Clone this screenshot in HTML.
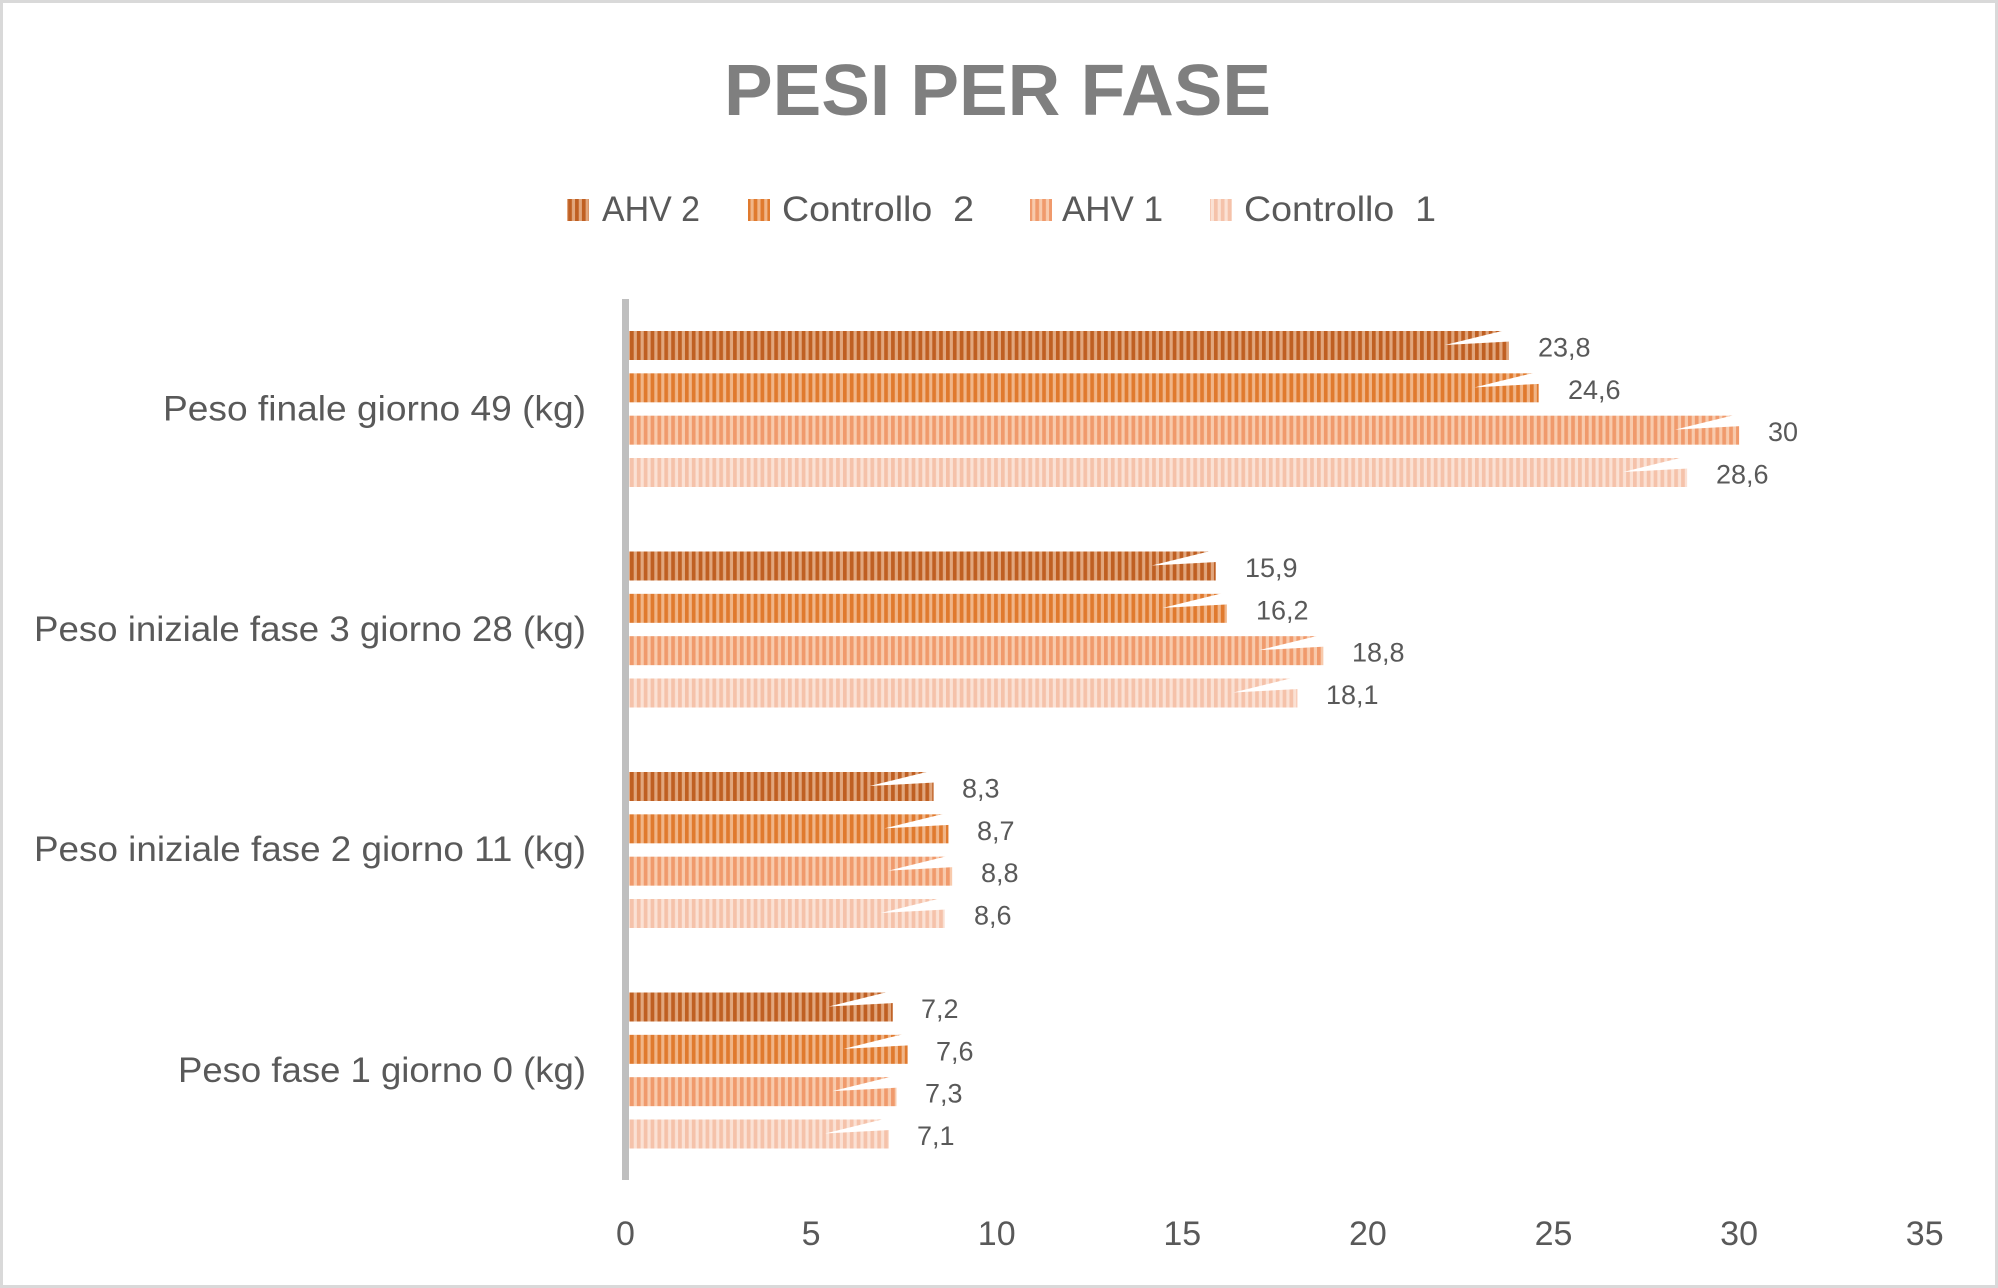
<!DOCTYPE html>
<html>
<head>
<meta charset="utf-8">
<style>
  html,body{margin:0;padding:0;background:#fff;}
  svg{display:block;}
  text{font-family:"Liberation Sans", Arial, sans-serif;}
</style>
</head>
<body>
<svg width="1998" height="1288" viewBox="0 0 1998 1288" xmlns="http://www.w3.org/2000/svg">
  <defs>
    <pattern id="p1" patternUnits="userSpaceOnUse" x="630" y="0" width="6.87" height="20">
      <rect width="6.87" height="20" fill="#E1A67D"/>
      <rect width="3.7" height="20" fill="#BF5F22"/>
    </pattern>
    <pattern id="p2" patternUnits="userSpaceOnUse" x="630" y="0" width="6.87" height="20">
      <rect width="6.87" height="20" fill="#F0B588"/>
      <rect width="3.7" height="20" fill="#E07A2E"/>
    </pattern>
    <pattern id="p3" patternUnits="userSpaceOnUse" x="630" y="0" width="6.87" height="20">
      <rect width="6.87" height="20" fill="#F8CAAC"/>
      <rect width="3.7" height="20" fill="#F09A6C"/>
    </pattern>
    <pattern id="p4" patternUnits="userSpaceOnUse" x="630" y="0" width="6.87" height="20">
      <rect width="6.87" height="20" fill="#FBE1D4"/>
      <rect width="3.7" height="20" fill="#F5C2AA"/>
    </pattern>
  </defs>

  <rect x="0" y="0" width="1998" height="1288" fill="#ffffff"/>
  <rect x="1.5" y="1.5" width="1995" height="1285" fill="none" stroke="#D9D9D9" stroke-width="3"/>

  <!-- Title -->
  <text x="724" y="115" font-size="72" font-weight="bold" fill="#7F7F7F" textLength="547" lengthAdjust="spacingAndGlyphs">PESI PER FASE</text>

  <!-- Legend -->
  <rect x="567" y="199" width="22" height="22" fill="url(#p1)"/>
  <text x="602" y="221" font-size="35" fill="#595959" textLength="98" lengthAdjust="spacingAndGlyphs">AHV 2</text>
  <rect x="748" y="199" width="22" height="22" fill="url(#p2)"/>
  <text x="782" y="221" font-size="35" fill="#595959" textLength="192" lengthAdjust="spacingAndGlyphs">Controllo&#160; 2</text>
  <rect x="1030" y="199" width="22" height="22" fill="url(#p3)"/>
  <text x="1062" y="221" font-size="35" fill="#595959" textLength="101" lengthAdjust="spacingAndGlyphs">AHV 1</text>
  <rect x="1210" y="199" width="22" height="22" fill="url(#p4)"/>
  <text x="1244" y="221" font-size="35" fill="#595959" textLength="192" lengthAdjust="spacingAndGlyphs">Controllo&#160; 1</text>

  <!-- Category labels -->
  <text x="163" y="420.5" font-size="35" fill="#595959" textLength="423" lengthAdjust="spacingAndGlyphs">Peso finale giorno 49 (kg)</text>
  <text x="34" y="641" font-size="35" fill="#595959" textLength="552" lengthAdjust="spacingAndGlyphs">Peso iniziale fase 3 giorno 28 (kg)</text>
  <text x="34" y="861" font-size="35" fill="#595959" textLength="552" lengthAdjust="spacingAndGlyphs">Peso iniziale fase 2 giorno 11 (kg)</text>
  <text x="178" y="1082" font-size="35" fill="#595959" textLength="408" lengthAdjust="spacingAndGlyphs">Peso fase 1 giorno 0 (kg)</text>

  <!-- Bars: Category 1 (Peso finale giorno 49) -->
  <rect x="629" y="331" width="879.96" height="29" fill="url(#p1)"/>
  <polygon points="1444.96,345 1503.96,330.5 1510,330.5 1510,341.5" fill="#fff"/>
  <text x="1538" y="356.5" font-size="27" fill="#595959">23,8</text>

  <rect x="629" y="373.33" width="909.65" height="29" fill="url(#p2)"/>
  <polygon points="1474.65,387.33 1533.65,372.83 1539.65,372.83 1539.65,383.83" fill="#fff"/>
  <text x="1568" y="398.8" font-size="27" fill="#595959">24,6</text>

  <rect x="629" y="415.67" width="1110.1" height="29" fill="url(#p3)"/>
  <polygon points="1675.1,429.67 1734.1,415.17 1740.1,415.17 1740.1,426.17" fill="#fff"/>
  <text x="1768" y="441.2" font-size="27" fill="#595959">30</text>

  <rect x="629" y="458" width="1058.13" height="29" fill="url(#p4)"/>
  <polygon points="1623.13,472 1682.13,457.5 1688.13,457.5 1688.13,468.5" fill="#fff"/>
  <text x="1716" y="483.5" font-size="27" fill="#595959">28,6</text>

  <!-- Category 2 (fase 3) -->
  <rect x="629" y="551.5" width="586.71" height="29" fill="url(#p1)"/>
  <polygon points="1151.71,565.5 1210.71,551 1216.71,551 1216.71,562" fill="#fff"/>
  <text x="1245" y="577" font-size="27" fill="#595959">15,9</text>

  <rect x="629" y="593.83" width="597.84" height="29" fill="url(#p2)"/>
  <polygon points="1162.84,607.83 1221.84,593.33 1227.84,593.33 1227.84,604.33" fill="#fff"/>
  <text x="1256" y="619.3" font-size="27" fill="#595959">16,2</text>

  <rect x="629" y="636.17" width="694.36" height="29" fill="url(#p3)"/>
  <polygon points="1259.36,650.17 1318.36,635.67 1324.36,635.67 1324.36,646.67" fill="#fff"/>
  <text x="1352" y="661.7" font-size="27" fill="#595959">18,8</text>

  <rect x="629" y="678.5" width="668.37" height="29" fill="url(#p4)"/>
  <polygon points="1233.37,692.5 1292.37,678 1298.37,678 1298.37,689" fill="#fff"/>
  <text x="1326" y="704" font-size="27" fill="#595959">18,1</text>

  <!-- Category 3 (fase 2) -->
  <rect x="629" y="772" width="304.6" height="29" fill="url(#p1)"/>
  <polygon points="869.6,786 928.6,771.5 934.6,771.5 934.6,782.5" fill="#fff"/>
  <text x="962" y="797.5" font-size="27" fill="#595959">8,3</text>

  <rect x="629" y="814.33" width="319.44" height="29" fill="url(#p2)"/>
  <polygon points="884.44,828.33 943.44,813.83 949.44,813.83 949.44,824.83" fill="#fff"/>
  <text x="977" y="839.8" font-size="27" fill="#595959">8,7</text>

  <rect x="629" y="856.67" width="323.16" height="29" fill="url(#p3)"/>
  <polygon points="888.16,870.67 947.16,856.17 953.16,856.17 953.16,867.17" fill="#fff"/>
  <text x="981" y="882.2" font-size="27" fill="#595959">8,8</text>

  <rect x="629" y="899" width="315.73" height="29" fill="url(#p4)"/>
  <polygon points="880.73,913 939.73,898.5 945.73,898.5 945.73,909.5" fill="#fff"/>
  <text x="974" y="924.5" font-size="27" fill="#595959">8,6</text>

  <!-- Category 4 (fase 1) -->
  <rect x="629" y="992.5" width="263.76" height="29" fill="url(#p1)"/>
  <polygon points="828.76,1006.5 887.76,992 893.76,992 893.76,1003" fill="#fff"/>
  <text x="921" y="1018" font-size="27" fill="#595959">7,2</text>

  <rect x="629" y="1034.83" width="278.61" height="29" fill="url(#p2)"/>
  <polygon points="843.61,1048.83 902.61,1034.33 908.61,1034.33 908.61,1045.33" fill="#fff"/>
  <text x="936" y="1060.3" font-size="27" fill="#595959">7,6</text>

  <rect x="629" y="1077.17" width="267.48" height="29" fill="url(#p3)"/>
  <polygon points="832.48,1091.17 891.48,1076.67 897.48,1076.67 897.48,1087.67" fill="#fff"/>
  <text x="925" y="1102.7" font-size="27" fill="#595959">7,3</text>

  <rect x="629" y="1119.5" width="260.05" height="29" fill="url(#p4)"/>
  <polygon points="825.05,1133.5 884.05,1119 890.05,1119 890.05,1130" fill="#fff"/>
  <text x="917" y="1145" font-size="27" fill="#595959">7,1</text>

  <!-- Vertical axis line -->
  <rect x="622" y="299" width="7" height="881" fill="#BFBFBF"/>

  <!-- X axis tick labels -->
  <g font-size="34" fill="#595959" text-anchor="middle">
    <text x="625.5" y="1245">0</text>
    <text x="811.1" y="1245">5</text>
    <text x="996.7" y="1245">10</text>
    <text x="1182.3" y="1245">15</text>
    <text x="1367.9" y="1245">20</text>
    <text x="1553.5" y="1245">25</text>
    <text x="1739.1" y="1245">30</text>
    <text x="1924.7" y="1245">35</text>
  </g>
</svg>
</body>
</html>
